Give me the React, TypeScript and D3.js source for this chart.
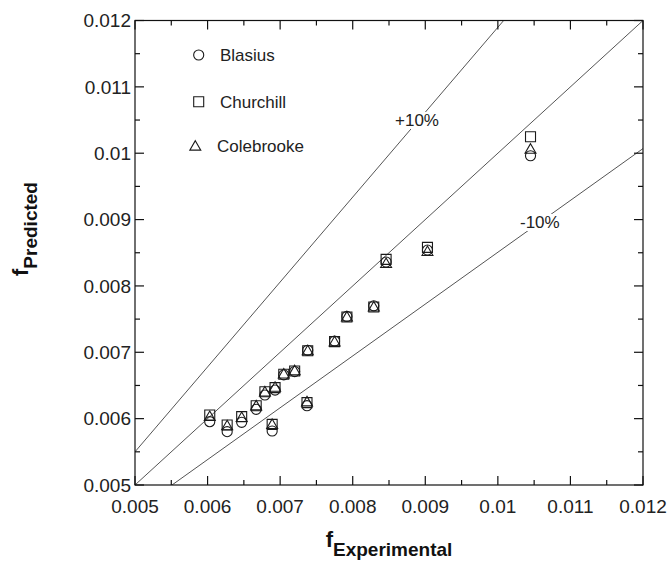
import React, { useEffect, useRef } from 'react'
import * as d3 from 'd3'

// measured values (friction factor), one entry per test point
const fExperimental = [0.00603, 0.00627, 0.00647, 0.00667, 0.00679, 0.00689, 0.00693, 0.00705, 0.0072, 0.00737, 0.00738, 0.00775, 0.00792, 0.00829, 0.00846, 0.00903, 0.01045]
const blasius = [0.005954, 0.005804, 0.005944, 0.00614, 0.006356, 0.005814, 0.00643, 0.00666, 0.00671, 0.006195, 0.00703, 0.00717, 0.00754, 0.0077, 0.00836, 0.00854, 0.009962]
const churchill = [0.006055, 0.005904, 0.00603, 0.006195, 0.006406, 0.005914, 0.006467, 0.006668, 0.006718, 0.006241, 0.007024, 0.00716, 0.007531, 0.007682, 0.0084, 0.008581, 0.010249]
const colebrooke = [0.00602, 0.00588, 0.006005, 0.00618, 0.00639, 0.0059, 0.00646, 0.00666, 0.00671, 0.00624, 0.00701, 0.007145, 0.00752, 0.00767, 0.008325, 0.008506, 0.010048]

const majorTicks = [0.005, 0.006, 0.007, 0.008, 0.009, 0.01, 0.011, 0.012]
const tickLabels = ['0.005', '0.006', '0.007', '0.008', '0.009', '0.01', '0.011', '0.012']
const minorTicks = [0.0055, 0.0065, 0.0075, 0.0085, 0.0095, 0.0105, 0.0115]

// reference lines as drawn in the figure (end points)
const lineEqual = [[0.005, 0.005], [0.012, 0.012]]
const linePlus10 = [[0.005, 0.0055], [0.01008, 0.012]]
const lineMinus10 = [[0.00551, 0.005], [0.012, 0.01007]]

const seriesNames = ['Blasius', 'Churchill', 'Colebrooke']

const FONT = '"Liberation Sans", Arial, Helvetica, sans-serif'

const Chart = () => {
  const ref = useRef<SVGSVGElement>(null)

  useEffect(() => {
    const svg = d3.select(ref.current)
    svg.selectAll('*').remove()

    const left = 135
    const right = 643
    const top = 20.5
    const bottom = 485

    const x = d3.scaleLinear().domain([0.005, 0.012]).range([left, right])
    const y = d3.scaleLinear().domain([0.005, 0.012]).range([bottom, top])

    svg.append('defs').append('clipPath').attr('id', 'plotclip')
      .append('rect').attr('x', left).attr('y', top).attr('width', right - left).attr('height', bottom - top)

    // reference lines
    const line = d3.line<number[]>().x(d => x(d[0])).y(d => y(d[1]))
    const refs = svg.append('g').attr('clip-path', 'url(#plotclip)')
    ;[lineEqual, linePlus10, lineMinus10].forEach(l => {
      refs.append('path').attr('d', line(l)).attr('fill', 'none').attr('stroke', '#555').attr('stroke-width', 1)
    })

    // line labels with white background
    const addLabel = (txt: string, lx: number, ly: number) => {
      const g = svg.append('g')
      const rect = g.append('rect').attr('fill', 'white')
      const t = g.append('text').attr('x', lx).attr('y', ly).attr('font-family', FONT).attr('font-size', 17).attr('fill', '#222').text(txt)
      const bb = (t.node() as SVGTextElement).getBBox()
      rect.attr('x', bb.x - 2).attr('y', bb.y + 1).attr('width', bb.width + 4).attr('height', bb.height - 2)
    }
    addLabel('+10%', 395, 126)
    addLabel('-10%', 520, 228)

    // markers
    const circle = d3.symbol(d3.symbolCircle, 80)()
    const square = d3.symbol(d3.symbolSquare, 100)()
    const tri = d3.symbol(d3.symbolTriangle, 52)()
    const marks = svg.append('g').attr('fill', 'none').attr('stroke', '#1a1a1a').attr('stroke-width', 1.1)
    const drawSeries = (vals: number[], shape: string | null) => {
      marks.append('g').selectAll('path').data(vals).enter().append('path')
        .attr('d', shape)
        .attr('transform', (d, i) => `translate(${x(fExperimental[i])},${y(d)})`)
    }
    drawSeries(blasius, circle)
    drawSeries(churchill, square)
    drawSeries(colebrooke, tri)

    // frame + ticks
    const axes = svg.append('g').attr('stroke', '#111').attr('stroke-width', 1.2)
    axes.append('rect').attr('x', left).attr('y', top).attr('width', right - left).attr('height', bottom - top).attr('fill', 'none')
    const allTicks = majorTicks.map(v => ({ v, major: true })).concat(minorTicks.map(v => ({ v, major: false })))
    allTicks.forEach(t => {
      const len = t.major ? 9 : 5
      axes.append('line').attr('x1', x(t.v)).attr('x2', x(t.v)).attr('y1', bottom).attr('y2', bottom - len)
      axes.append('line').attr('x1', x(t.v)).attr('x2', x(t.v)).attr('y1', top).attr('y2', top + len)
      axes.append('line').attr('y1', y(t.v)).attr('y2', y(t.v)).attr('x1', left).attr('x2', left + len)
      axes.append('line').attr('y1', y(t.v)).attr('y2', y(t.v)).attr('x1', right).attr('x2', right - len)
    })

    // tick labels
    const labels = svg.append('g').attr('font-family', FONT).attr('font-size', 19).attr('fill', '#222')
    majorTicks.forEach((v, i) => {
      labels.append('text').attr('x', x(v)).attr('y', 513).attr('text-anchor', 'middle').text(tickLabels[i])
      labels.append('text').attr('x', 131).attr('y', y(v)).attr('dy', '0.35em').attr('text-anchor', 'end').text(tickLabels[i])
    })

    // legend
    const legend = svg.append('g')
    const legendShapes = [circle, square, tri]
    const legendPos = [
      { sx: 198.7, sy: 55, tx: 220, ty: 61 },
      { sx: 198.7, sy: 101.7, tx: 220, ty: 108 },
      { sx: 195.3, sy: 147, tx: 217, ty: 152 }
    ]
    seriesNames.forEach((name, i) => {
      const p = legendPos[i]
      legend.append('path').attr('d', legendShapes[i]).attr('transform', `translate(${p.sx},${p.sy})`)
        .attr('fill', 'none').attr('stroke', '#1a1a1a').attr('stroke-width', 1.1)
      legend.append('text').attr('x', p.tx).attr('y', p.ty).attr('font-family', FONT).attr('font-size', 17).attr('fill', '#222').text(name)
    })

    // axis titles
    const xt = svg.append('text').attr('font-family', FONT).attr('font-weight', 'bold').attr('fill', '#111')
      .attr('text-anchor', 'middle').attr('x', (left + right) / 2).attr('y', 547)
    xt.append('tspan').attr('font-size', 22).text('f')
    xt.append('tspan').attr('font-size', 19).attr('dy', 9).text('Experimental')

    const yt = svg.append('text').attr('font-family', FONT).attr('font-weight', 'bold').attr('fill', '#111')
      .attr('text-anchor', 'middle').attr('transform', `translate(28,${229}) rotate(-90)`)
    yt.append('tspan').attr('font-size', 22).text('f')
    yt.append('tspan').attr('font-size', 19).attr('dy', 9).text('Predicted')
  }, [])

  return <svg ref={ref} width={668} height={567} style={{ position: 'absolute', left: 0, top: 0, background: 'white' }} />
}

const App = () => {
  return (
    <div>
      <Chart />
    </div>
  )
}

export default App
